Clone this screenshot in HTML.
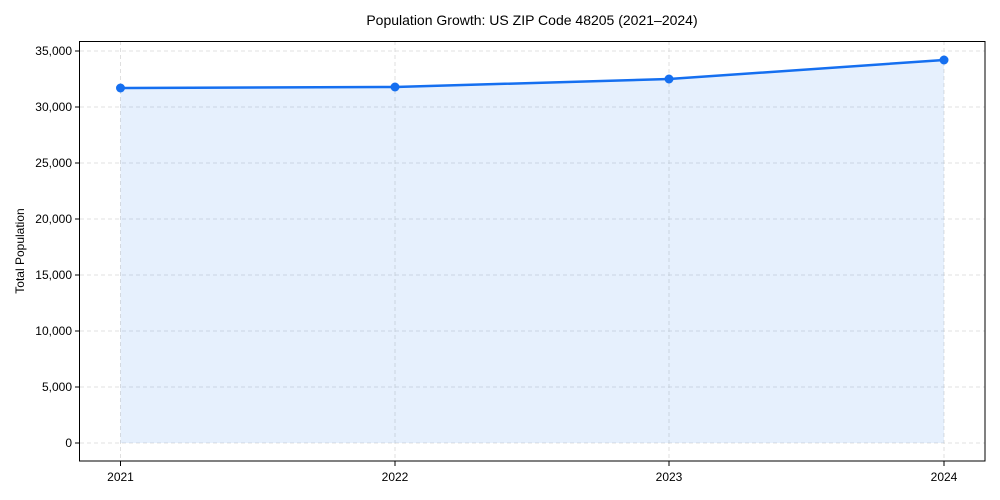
<!DOCTYPE html>
<html><head><style>body{margin:0;background:#fff}svg{display:block}text{font-family:"Liberation Sans",Arial,sans-serif;fill:#000}</style></head><body>
<svg width="1000" height="500" viewBox="0 0 1000 500">
<g stroke="#d8d8d8" stroke-dasharray="4,3" stroke-width="0.8">
<line x1="80" x2="985" y1="443" y2="443"/><line x1="80" x2="985" y1="387" y2="387"/><line x1="80" x2="985" y1="331" y2="331"/><line x1="80" x2="985" y1="275" y2="275"/><line x1="80" x2="985" y1="219" y2="219"/><line x1="80" x2="985" y1="163" y2="163"/><line x1="80" x2="985" y1="107" y2="107"/><line x1="80" x2="985" y1="51" y2="51"/>
<line y1="41" y2="461" x1="120.5" x2="120.5"/><line y1="41" y2="461" x1="395" x2="395"/><line y1="41" y2="461" x1="669" x2="669"/><line y1="41" y2="461" x1="944" x2="944"/>
</g>
<polygon points="120.5,88 395,87 669,79 944,60 944,443 120.5,443" fill="#1a73f0" fill-opacity="0.11"/>
<polyline points="120.5,88 395,87 669,79 944,60" fill="none" stroke="#156ff0" stroke-width="2.5"/>
<g fill="#156ff0"><circle cx="120.5" cy="88" r="4.5"/><circle cx="395" cy="87" r="4.5"/><circle cx="669" cy="79" r="4.5"/><circle cx="944" cy="60" r="4.5"/></g>
<rect x="79.5" y="41.5" width="905.5" height="419.5" fill="none" stroke="#000" stroke-width="1"/>
<g stroke="#000"><line x1="75" x2="79.5" y1="443" y2="443"/><line x1="75" x2="79.5" y1="387" y2="387"/><line x1="75" x2="79.5" y1="331" y2="331"/><line x1="75" x2="79.5" y1="275" y2="275"/><line x1="75" x2="79.5" y1="219" y2="219"/><line x1="75" x2="79.5" y1="163" y2="163"/><line x1="75" x2="79.5" y1="107" y2="107"/><line x1="75" x2="79.5" y1="51" y2="51"/>
<line x1="120.5" x2="120.5" y1="461" y2="466"/><line x1="395" x2="395" y1="461" y2="466"/><line x1="669" x2="669" y1="461" y2="466"/><line x1="944" x2="944" y1="461" y2="466"/></g>
<g font-size="12" text-anchor="end"><text x="72" y="447">0</text><text x="72" y="391">5,000</text><text x="72" y="335">10,000</text><text x="72" y="279">15,000</text><text x="72" y="223">20,000</text><text x="72" y="167">25,000</text><text x="72" y="111">30,000</text><text x="72" y="55">35,000</text></g>
<g font-size="12" text-anchor="middle"><text x="120.5" y="481">2021</text><text x="395" y="481">2022</text><text x="669" y="481">2023</text><text x="944" y="481">2024</text></g>
<text x="532" y="25" font-size="14" text-anchor="middle">Population Growth: US ZIP Code 48205 (2021–2024)</text>
<text transform="translate(24,251) rotate(-90)" font-size="12" text-anchor="middle">Total Population</text>
</svg></body></html>
